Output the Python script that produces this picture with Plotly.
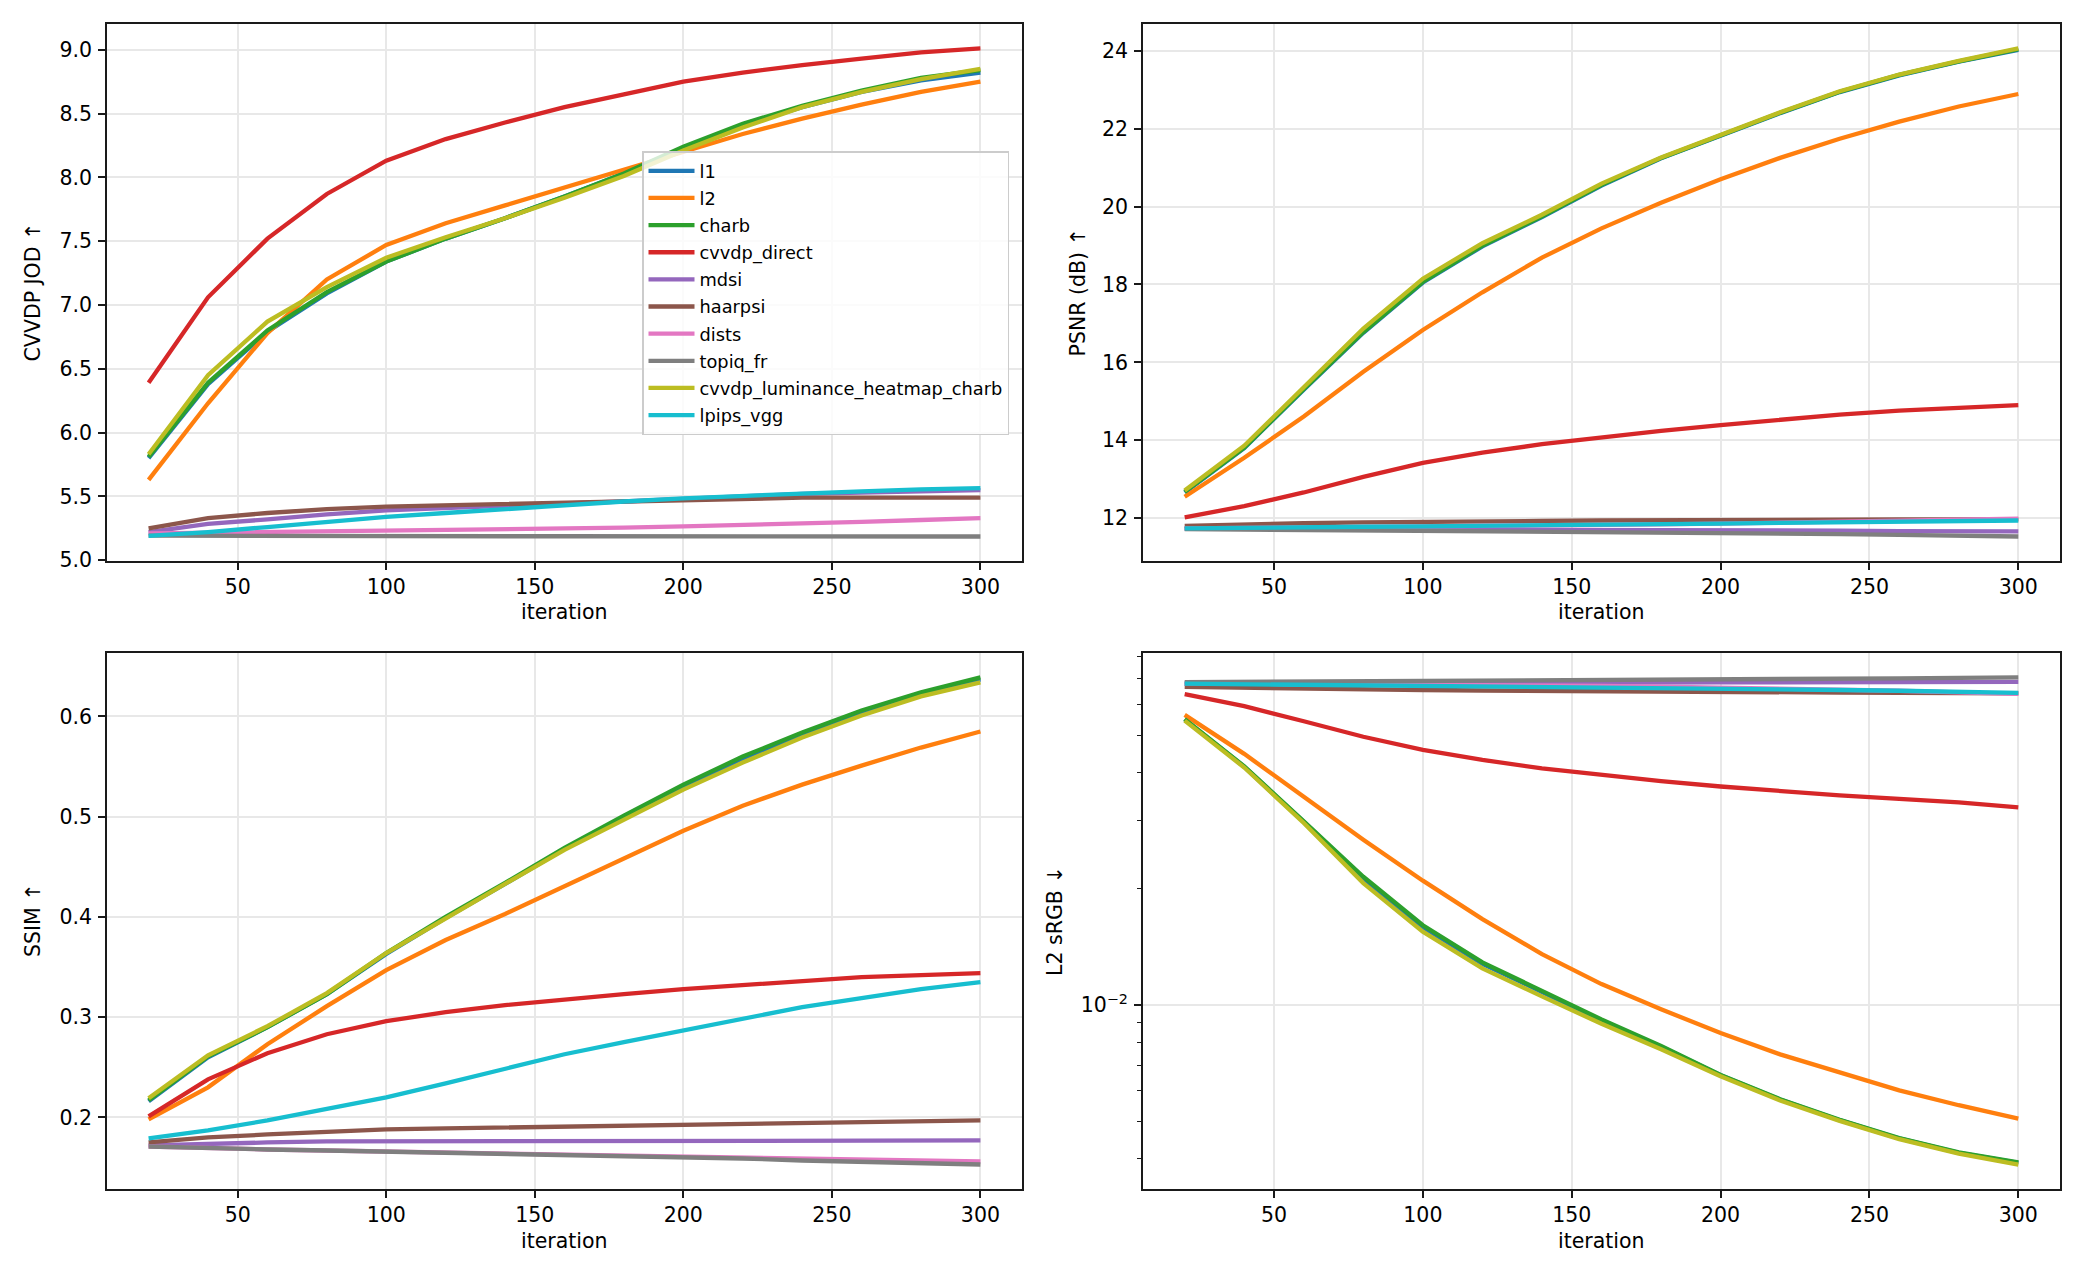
import plotly.graph_objects as go
import math

W, H = 2080, 1280
H_EFF = 1266  # empirical vertical scale of the rendered page

iterations = [20, 40, 60, 80, 100, 120, 140, 160, 180, 200, 220, 240, 260, 280, 300]

methods = ["l1", "l2", "charb", "cvvdp_direct", "mdsi", "haarpsi", "dists",
           "topiq_fr", "cvvdp_luminance_heatmap_charb", "lpips_vgg"]
colors = ["#1f77b4", "#ff7f0e", "#2ca02c", "#d62728", "#9467bd", "#8c564b",
          "#e377c2", "#7f7f7f", "#bcbd22", "#17becf"]

# ---- CVVDP JOD ----
jod_l1 = [5.80, 6.38, 6.79, 7.09, 7.34, 7.52, 7.68, 7.85, 8.03, 8.23, 8.41, 8.55, 8.67, 8.76, 8.82]
jod_l2 = [5.63, 6.23, 6.78, 7.20, 7.47, 7.64, 7.78, 7.92, 8.06, 8.20, 8.34, 8.46, 8.57, 8.67, 8.75]
jod_charb = [5.81, 6.39, 6.80, 7.10, 7.34, 7.52, 7.68, 7.85, 8.03, 8.24, 8.42, 8.56, 8.68, 8.78, 8.84]
jod_cvvdp_direct = [6.39, 7.06, 7.52, 7.87, 8.13, 8.30, 8.43, 8.55, 8.65, 8.75, 8.82, 8.88, 8.93, 8.98, 9.01]
jod_mdsi = [5.22, 5.285, 5.32, 5.36, 5.39, 5.41, 5.43, 5.445, 5.46, 5.48, 5.50, 5.52, 5.53, 5.54, 5.55]
jod_haarpsi = [5.25, 5.33, 5.37, 5.40, 5.42, 5.43, 5.445, 5.456, 5.466, 5.477, 5.484, 5.49, 5.49, 5.49, 5.49]
jod_dists = [5.21, 5.215, 5.22, 5.225, 5.23, 5.235, 5.24, 5.245, 5.255, 5.265, 5.275, 5.29, 5.30, 5.315, 5.33]
jod_topiq_fr = [5.192, 5.19, 5.19, 5.189, 5.189, 5.188, 5.188, 5.188, 5.187, 5.187, 5.187, 5.186, 5.186, 5.186, 5.186]
jod_cvvdp_lum = [5.83, 6.45, 6.87, 7.14, 7.37, 7.53, 7.68, 7.84, 8.01, 8.21, 8.39, 8.55, 8.67, 8.77, 8.85]
jod_lpips_vgg = [5.19, 5.22, 5.26, 5.30, 5.34, 5.37, 5.40, 5.435, 5.46, 5.485, 5.505, 5.525, 5.54, 5.555, 5.565]

# ---- PSNR (dB) ----
psnr_l1 = [12.66, 13.80, 15.30, 16.76, 18.05, 18.98, 19.73, 20.54, 21.24, 21.82, 22.40, 22.94, 23.37, 23.72, 24.02]
psnr_l2 = [12.55, 13.55, 14.61, 15.76, 16.83, 17.80, 18.69, 19.44, 20.10, 20.70, 21.25, 21.74, 22.18, 22.57, 22.89]
psnr_charb = [12.68, 13.81, 15.32, 16.78, 18.07, 19.00, 19.75, 20.56, 21.25, 21.83, 22.41, 22.95, 23.38, 23.73, 24.04]
psnr_cvvdp_direct = [12.02, 12.31, 12.66, 13.06, 13.42, 13.68, 13.90, 14.08, 14.24, 14.39, 14.52, 14.66, 14.76, 14.83, 14.90]
psnr_mdsi = [11.73, 11.73, 11.72, 11.72, 11.71, 11.71, 11.70, 11.70, 11.69, 11.69, 11.68, 11.68, 11.67, 11.67, 11.66]
psnr_haarpsi = [11.80, 11.84, 11.87, 11.89, 11.91, 11.92, 11.93, 11.94, 11.95, 11.95, 11.96, 11.96, 11.97, 11.97, 11.97]
psnr_dists = [11.74, 11.75, 11.76, 11.77, 11.78, 11.79, 11.80, 11.82, 11.84, 11.86, 11.88, 11.90, 11.93, 11.96, 11.99]
psnr_topiq_fr = [11.72, 11.71, 11.70, 11.69, 11.68, 11.67, 11.66, 11.65, 11.63, 11.62, 11.60, 11.59, 11.57, 11.55, 11.53]
psnr_cvvdp_lum = [12.71, 13.86, 15.36, 16.87, 18.15, 19.06, 19.79, 20.59, 21.26, 21.84, 22.42, 22.96, 23.39, 23.74, 24.06]
psnr_lpips_vgg = [11.74, 11.76, 11.77, 11.78, 11.79, 11.80, 11.82, 11.83, 11.85, 11.86, 11.88, 11.89, 11.91, 11.92, 11.94]

# ---- SSIM ----
ssim_l1 = [0.216, 0.260, 0.290, 0.323, 0.363, 0.399, 0.433, 0.468, 0.500, 0.530, 0.558, 0.582, 0.604, 0.622, 0.637]
ssim_l2 = [0.198, 0.230, 0.273, 0.311, 0.347, 0.377, 0.403, 0.431, 0.458, 0.486, 0.511, 0.532, 0.551, 0.569, 0.585]
ssim_charb = [0.217, 0.261, 0.290, 0.323, 0.364, 0.400, 0.434, 0.469, 0.501, 0.532, 0.560, 0.584, 0.606, 0.624, 0.639]
ssim_cvvdp_direct = [0.201, 0.238, 0.264, 0.283, 0.296, 0.305, 0.312, 0.318, 0.323, 0.328, 0.332, 0.336, 0.340, 0.342, 0.344]
ssim_mdsi = [0.172, 0.174, 0.175, 0.176, 0.176, 0.176, 0.176, 0.176, 0.176, 0.176, 0.176, 0.176, 0.176, 0.176, 0.177]
ssim_haarpsi = [0.175, 0.180, 0.183, 0.186, 0.188, 0.189, 0.190, 0.191, 0.192, 0.193, 0.194, 0.195, 0.196, 0.197, 0.197]
ssim_dists = [0.171, 0.169, 0.168, 0.167, 0.166, 0.165, 0.1645, 0.164, 0.163, 0.162, 0.161, 0.160, 0.159, 0.158, 0.156]
ssim_topiq_fr = [0.171, 0.169, 0.168, 0.167, 0.166, 0.165, 0.164, 0.163, 0.162, 0.160, 0.159, 0.157, 0.156, 0.155, 0.153]
ssim_cvvdp_lum = [0.219, 0.262, 0.291, 0.324, 0.364, 0.399, 0.433, 0.467, 0.497, 0.527, 0.554, 0.579, 0.601, 0.620, 0.634]
ssim_lpips_vgg = [0.179, 0.187, 0.197, 0.208, 0.220, 0.234, 0.249, 0.263, 0.275, 0.287, 0.299, 0.310, 0.319, 0.328, 0.335]

# ---- L2 sRGB (log) ----
l2s_l1 = [0.0549, 0.0414, 0.0298, 0.0213, 0.0159, 0.0128, 0.01082, 0.00913, 0.00781, 0.00659, 0.00570, 0.00504, 0.00452, 0.00415, 0.00391]
l2s_l2 = [0.0564, 0.0447, 0.0346, 0.0268, 0.0210, 0.0167, 0.01355, 0.01134, 0.00976, 0.00847, 0.00746, 0.00669, 0.00602, 0.00551, 0.00509]
l2s_charb = [0.0550, 0.0415, 0.0299, 0.0215, 0.0161, 0.0129, 0.01089, 0.00918, 0.00784, 0.00660, 0.00571, 0.00505, 0.00453, 0.00416, 0.00392]
l2s_cvvdp_direct = [0.0638, 0.0594, 0.0543, 0.0495, 0.0458, 0.0431, 0.0410, 0.0394, 0.0380, 0.0368, 0.0358, 0.0349, 0.0342, 0.0335, 0.0325]
l2s_mdsi = [0.0679, 0.0680, 0.0680, 0.0681, 0.0681, 0.0682, 0.0682, 0.0683, 0.0683, 0.0684, 0.0684, 0.0685, 0.0685, 0.0686, 0.0686]
l2s_haarpsi = [0.0666, 0.0662, 0.0659, 0.0656, 0.0654, 0.0652, 0.0650, 0.0649, 0.0647, 0.0646, 0.0645, 0.0644, 0.0643, 0.0642, 0.0641]
l2s_dists = [0.0680, 0.0679, 0.0678, 0.0677, 0.0676, 0.0674, 0.0672, 0.0670, 0.0667, 0.0664, 0.0660, 0.0656, 0.0651, 0.0645, 0.0639]
l2s_topiq_fr = [0.0685, 0.0686, 0.0687, 0.0688, 0.0689, 0.0690, 0.0691, 0.0692, 0.0694, 0.0695, 0.0697, 0.0699, 0.0701, 0.0703, 0.0705]
l2s_cvvdp_lum = [0.0545, 0.0412, 0.0296, 0.0207, 0.0155, 0.01245, 0.01054, 0.00895, 0.00769, 0.00655, 0.00567, 0.00502, 0.00450, 0.00413, 0.00387]
l2s_lpips_vgg = [0.0679, 0.0677, 0.0675, 0.0673, 0.0671, 0.0669, 0.0667, 0.0665, 0.0662, 0.0660, 0.0657, 0.0654, 0.0651, 0.0647, 0.0643]

jod_series = [jod_l1, jod_l2, jod_charb, jod_cvvdp_direct, jod_mdsi, jod_haarpsi,
              jod_dists, jod_topiq_fr, jod_cvvdp_lum, jod_lpips_vgg]
psnr_series = [psnr_l1, psnr_l2, psnr_charb, psnr_cvvdp_direct, psnr_mdsi, psnr_haarpsi,
               psnr_dists, psnr_topiq_fr, psnr_cvvdp_lum, psnr_lpips_vgg]
ssim_series = [ssim_l1, ssim_l2, ssim_charb, ssim_cvvdp_direct, ssim_mdsi, ssim_haarpsi,
               ssim_dists, ssim_topiq_fr, ssim_cvvdp_lum, ssim_lpips_vgg]
l2s_series = [l2s_l1, l2s_l2, l2s_charb, l2s_cvvdp_direct, l2s_mdsi, l2s_haarpsi,
              l2s_dists, l2s_topiq_fr, l2s_cvvdp_lum, l2s_lpips_vgg]

x_ticks = [50, 100, 150, 200, 250, 300]
jod_ticks = [5.0, 5.5, 6.0, 6.5, 7.0, 7.5, 8.0, 8.5, 9.0]
psnr_ticks = [12, 14, 16, 18, 20, 22, 24]
ssim_ticks = [0.2, 0.3, 0.4, 0.5, 0.6]
l2s_major = [0.01]
l2s_minor = [0.004, 0.005, 0.006, 0.007, 0.008, 0.009,
             0.02, 0.03, 0.04, 0.05, 0.06, 0.07, 0.08]

FONT = "DejaVu Sans"
LW = 4.3
GRID = "#e8e8e8"


def pad_range(series, log=False):
    vals = [v for s in series for v in s]
    if log:
        vals = [math.log10(v) for v in vals]
    lo, hi = min(vals), max(vals)
    d = (hi - lo) * 0.05
    return [lo - d, hi + d]


xr = [iterations[0] - (iterations[-1] - iterations[0]) * 0.05,
      iterations[-1] + (iterations[-1] - iterations[0]) * 0.05]

# panel geometry in target pixels
LX = (107, 1022)
RX = (1143, 2060)
TY = (24, 560)
BY = (652, 1187)


def fx(px):
    return px / W


def fy(py):
    return 1 - py / H_EFF


def dom_x(p):
    return [fx(p[0]), fx(p[1])]


def dom_y(p):
    return [fy(p[1]), fy(p[0])]


fig = go.Figure()

panels = [
    ("x", "y", jod_series, True),
    ("x2", "y2", psnr_series, False),
    ("x3", "y3", ssim_series, False),
    ("x4", "y4", l2s_series, False),
]
for xa, ya, series, show in panels:
    for name, col, vals in zip(methods, colors, series):
        fig.add_trace(go.Scatter(
            x=iterations, y=vals, mode="lines", name=name,
            line=dict(color=col, width=LW),
            xaxis=xa, yaxis=ya, showlegend=show, legendgroup=name,
        ))

axis_common = dict(
    showline=True, mirror=True, linecolor="#1a1a1a", linewidth=1.8,
    ticks="outside", ticklen=7, tickwidth=1.6, tickcolor="#1a1a1a",
    showgrid=True, gridcolor=GRID, gridwidth=1.6, zeroline=False,
    tickfont=dict(family=FONT, size=20.5, color="#000000"),
)

layout = dict(
    width=W, height=H, autosize=False,
    margin=dict(l=0, r=0, t=0, b=0),
    paper_bgcolor="white", plot_bgcolor="white",
    font=dict(family=FONT, color="#000000"),
    showlegend=True,
    legend=dict(
        x=fx(642), y=fy(151), xanchor="left", yanchor="top",
        bgcolor="rgba(255,255,255,0.8)", bordercolor="#cccccc", borderwidth=1.5,
        font=dict(family=FONT, size=17.8, color="#000000"),
        itemwidth=46, tracegroupgap=1,
    ),
)

xdefs = {"xaxis": ("y", LX, TY), "xaxis2": ("y2", RX, TY),
         "xaxis3": ("y3", LX, BY), "xaxis4": ("y4", RX, BY)}
for k, (anchor, px, py) in xdefs.items():
    layout[k] = dict(axis_common, domain=dom_x(px), anchor=anchor, range=xr,
                     tickmode="array", tickvals=x_ticks, ticklabelstandoff=0)

ycommon = dict(axis_common, ticklabelstandoff=2)
layout["yaxis"] = dict(ycommon, domain=dom_y(TY), anchor="x",
                       range=pad_range(jod_series), tickmode="array",
                       tickvals=jod_ticks, tickformat=".1f")
layout["yaxis2"] = dict(ycommon, domain=dom_y(TY), anchor="x2",
                        range=pad_range(psnr_series), tickmode="array",
                        tickvals=psnr_ticks)
layout["yaxis3"] = dict(ycommon, domain=dom_y(BY), anchor="x3",
                        range=pad_range(ssim_series), tickmode="array",
                        tickvals=ssim_ticks, tickformat=".1f")
layout["yaxis4"] = dict(ycommon, domain=dom_y(BY), anchor="x4", type="log",
                        range=pad_range(l2s_series, log=True), tickmode="array",
                        tickvals=l2s_major, ticktext=["10<sup>\u22122</sup>"],
                        minor=dict(tickmode="array", tickvals=l2s_minor,
                                   ticks="outside", ticklen=4, tickwidth=1.2,
                                   tickcolor="#1a1a1a", showgrid=False))

fig.update_layout(**layout)

ann = []
lab_font = dict(family=FONT, size=20.5, color="#000000")
for px, yy in [(LX, 611.5), (RX, 611.5), (LX, 1239), (RX, 1239)]:
    ann.append(dict(text="iteration", x=fx((px[0] + px[1]) / 2), y=fy(yy),
                    xref="paper", yref="paper", showarrow=False,
                    xanchor="center", yanchor="middle", font=lab_font))
for txt, xx, py in [("CVVDP JOD \u2191", 33, TY), ("PSNR (dB) \u2191", 1078, TY),
                    ("SSIM \u2191", 33, BY), ("L2 sRGB \u2193", 1055, BY)]:
    ann.append(dict(text=txt, x=fx(xx), y=fy((py[0] + py[1]) / 2),
                    xref="paper", yref="paper", showarrow=False, textangle=-90,
                    xanchor="center", yanchor="middle", font=lab_font))
fig.update_layout(annotations=ann)

fig.write_html("out.html")
